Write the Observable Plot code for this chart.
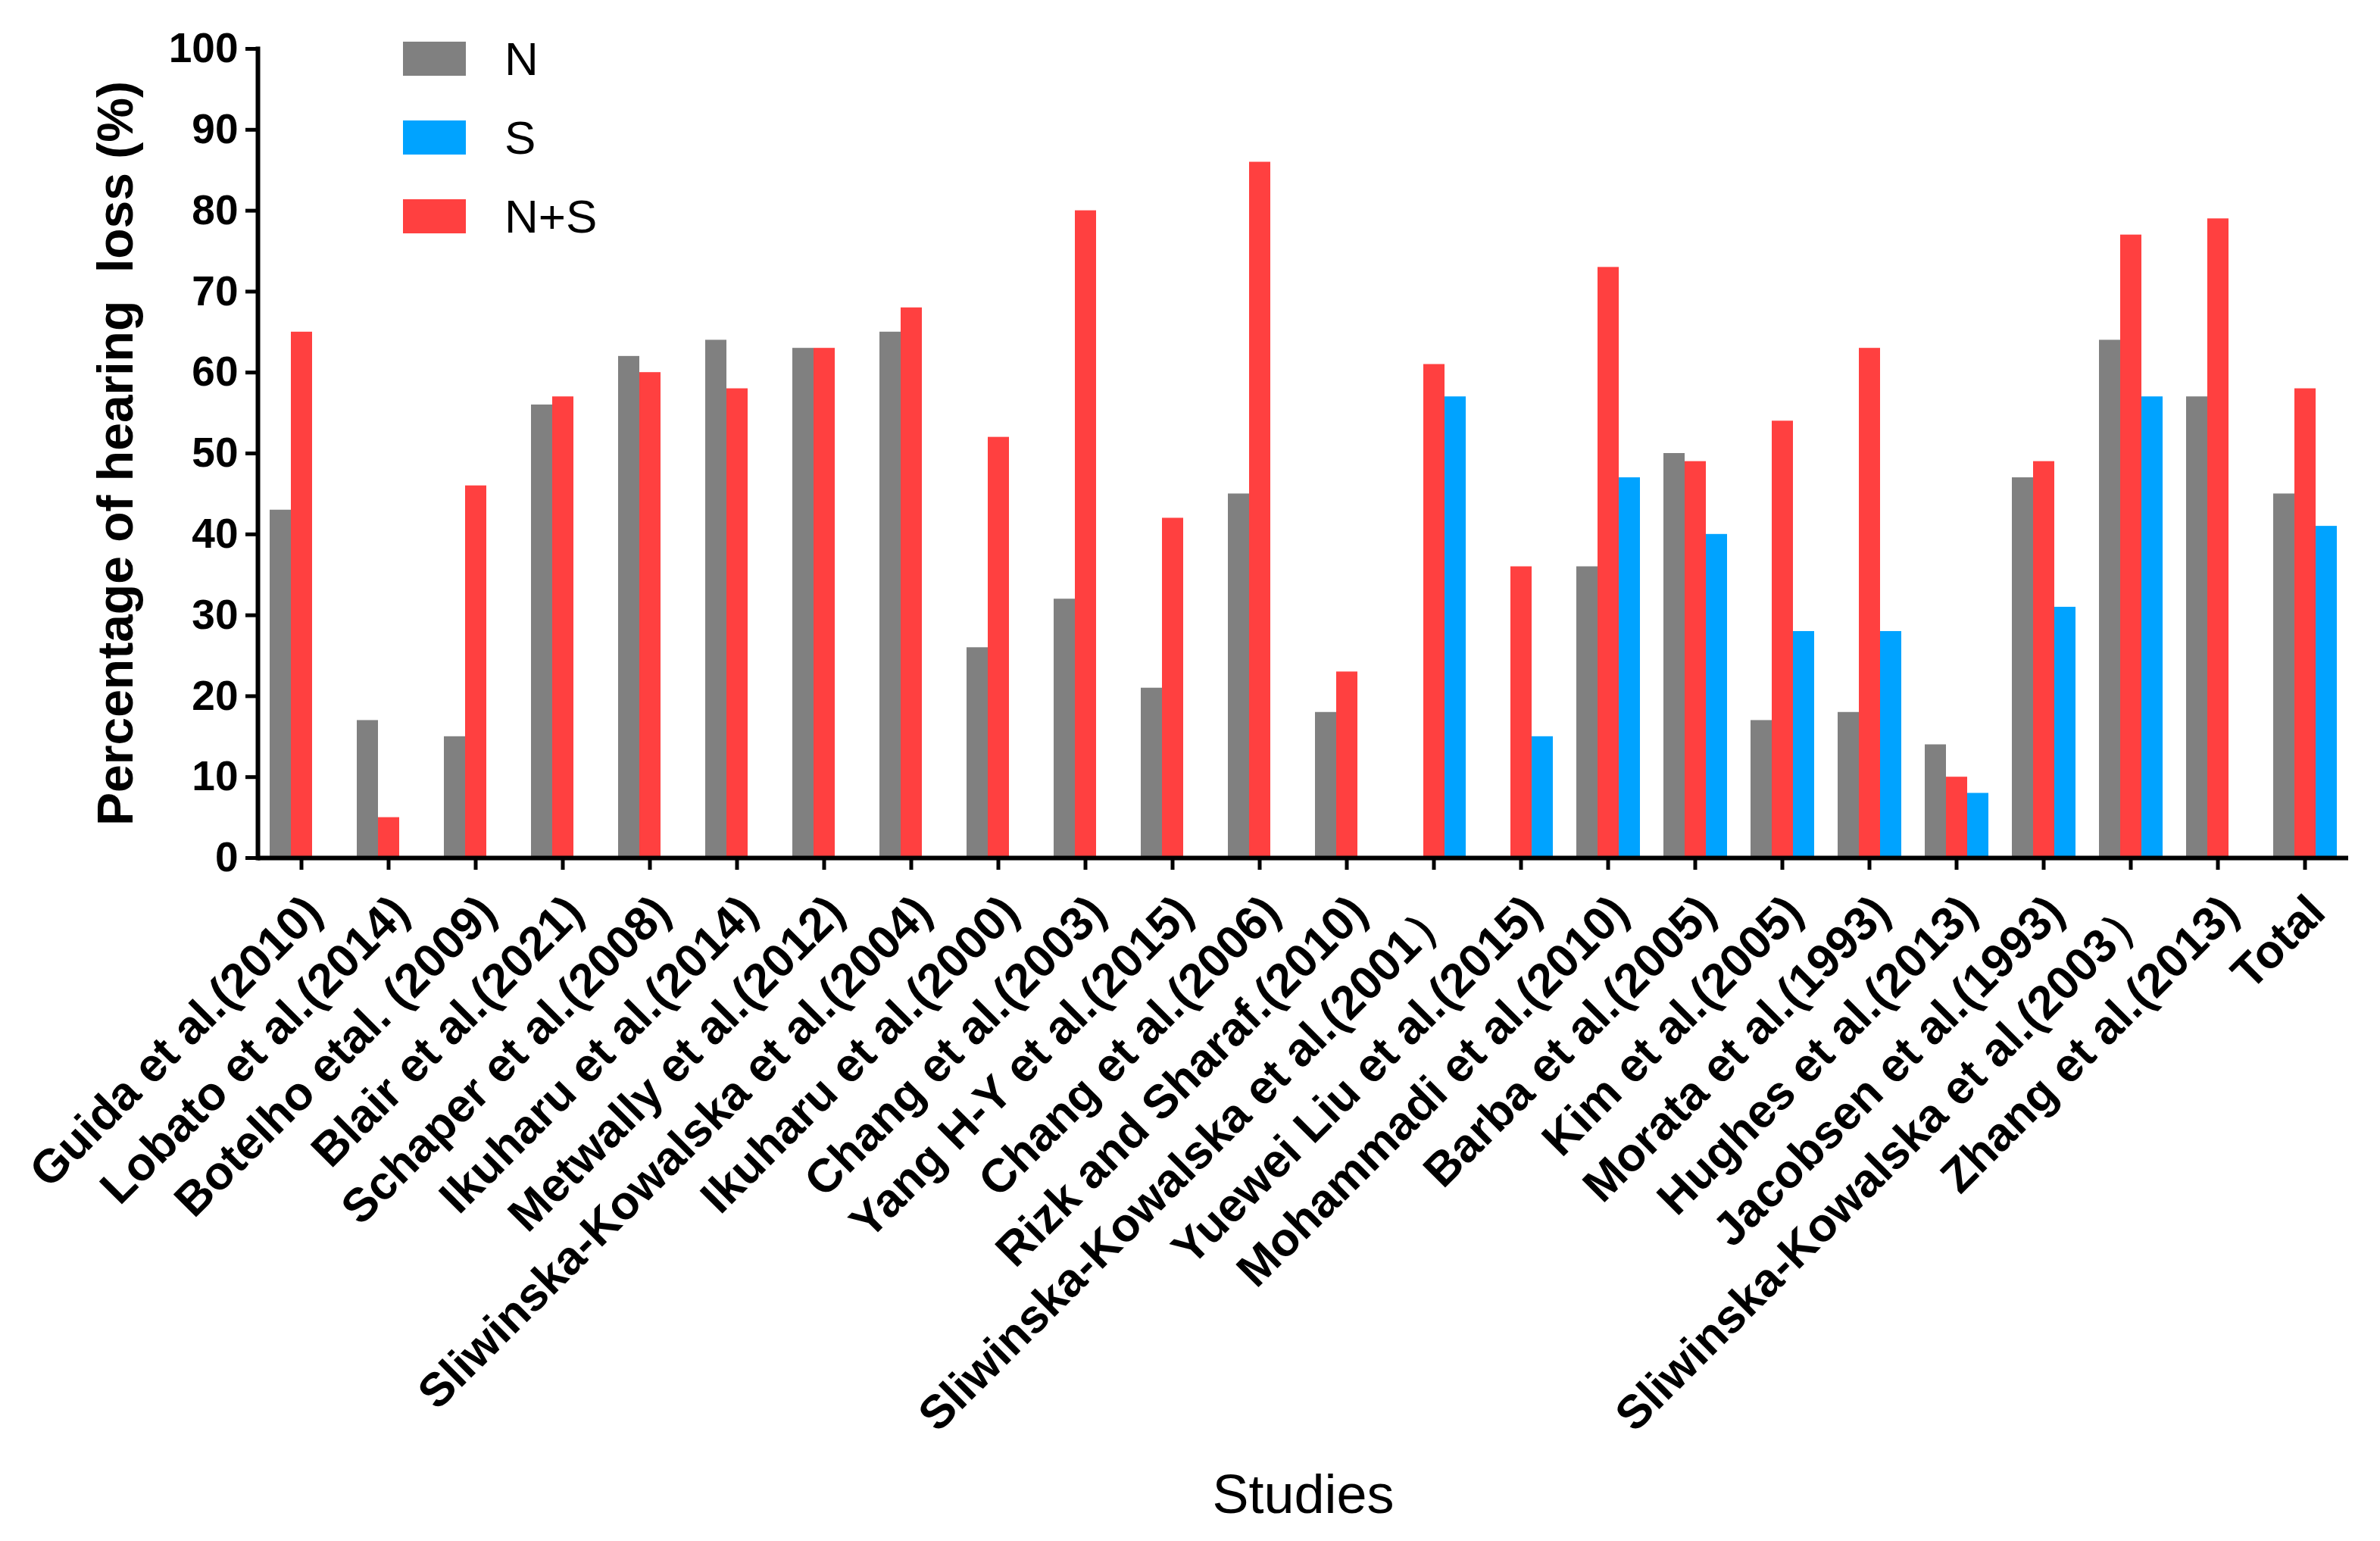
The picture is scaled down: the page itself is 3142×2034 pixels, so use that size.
<!DOCTYPE html>
<html>
<head>
<meta charset="utf-8">
<script src="https://cdn.jsdelivr.net/npm/d3@7"></script>
<script src="https://cdn.jsdelivr.net/npm/@observablehq/plot@0.6"></script>
<style>
  body { margin: 0; background: #fff; }
  #wrap { position: relative; width: 3142px; height: 2034px; font-family: "Liberation Sans", Arial, sans-serif; }
  #chart { position: absolute; left: 0; top: 0; }
  #legend { position: absolute; left: 532px; top: 55px; }
  .row { position: absolute; left: 0; display: flex; align-items: center; height: 45px; white-space: nowrap; }
  .sw { width: 83px; height: 45px; margin-right: 51px; }
  .lab { font-size: 62px; color: #000; }
</style>
</head>
<body>
<div id="wrap"><div id="chart"></div><div id="legend"></div></div>
<script>
const studies = [
  "Guida et al.(2010)",
  "Lobato et al.(2014)",
  "Botelho etal. (2009)",
  "Blair et al.(2021)",
  "Schaper et al.(2008)",
  "Ikuharu et al.(2014)",
  "Metwally et al.(2012)",
  "Sliwinska-Kowalska et al.(2004)",
  "Ikuharu et al.(2000)",
  "Chang et al.(2003)",
  "Yang H-Y et al.(2015)",
  "Chang et al.(2006)",
  "Rizk and Sharaf.(2010)",
  "Sliwinska-Kowalska et al.(2001\uFF09",
  "Yuewei Liu et al.(2015)",
  "Mohammadi et al.(2010)",
  "Barba et al.(2005)",
  "Kim et al.(2005)",
  "Morata et al.(1993)",
  "Hughes et al.(2013)",
  "Jacobsen et al.(1993)",
  "Sliwinska-Kowalska et al.(2003\uFF09",
  "Zhang et al.(2013)",
  "Total"
];
const valuesN  = [43, 17, 15, 56, 62, 64, 63, 65, 26, 32, 21, 45, 18, null, null, 36, 50, 17, 18, 14, 47, 64, 57, 45];
const valuesNS = [65, 5, 46, 57, 60, 58, 63, 68, 52, 80, 42, 86, 23, 61, 36, 73, 49, 54, 63, 10, 49, 77, 79, 58];
const valuesS  = [null, null, null, null, null, null, null, null, null, null, null, null, null, 57, 15, 47, 40, 28, 28, 8, 31, 57, null, 41];
const seriesNames = ["N", "S", "N+S"];
const seriesColors = ["#808080", "#00a3ff", "#ff4040"];
const slotOrder = ["N", "N+S", "S"];
const yTicks = [0, 10, 20, 30, 40, 50, 60, 70, 80, 90, 100];
const yLabel = "Percentage of hearing \u00A0loss (%)";
const xLabel = "Studies";

const data = [];
studies.forEach((s, i) => {
  if (valuesN[i] != null) data.push({study: s, series: "N", value: valuesN[i]});
  if (valuesNS[i] != null) data.push({study: s, series: "N+S", value: valuesNS[i]});
  if (valuesS[i] != null) data.push({study: s, series: "S", value: valuesS[i]});
});

const font = "Liberation Sans, Arial, sans-serif";
const chart = Plot.plot({
  width: 3142,
  height: 2034,
  marginLeft: 340,
  marginRight: 42,
  marginTop: 64,
  marginBottom: 902,
  style: {fontFamily: font, background: "white", color: "black"},
  fx: {domain: studies, padding: 0, axis: null},
  x: {domain: slotOrder, paddingInner: 0, paddingOuter: 0.5, axis: null},
  y: {domain: [0, 100], axis: null},
  color: {domain: seriesNames, range: seriesColors},
  marks: [
    Plot.barY(data, {fx: "study", x: "series", y: "value", fill: "series"}),
    Plot.ruleY([0], {stroke: "black", strokeWidth: 6}),
    Plot.frame({anchor: "left", facetAnchor: "left", stroke: "black", strokeWidth: 6}),
    Plot.axisY({ticks: yTicks, tickSize: 16, tickPadding: 10, strokeWidth: 5, fontSize: 55, fontWeight: "bold", label: null}),
    Plot.axisY({tickSize: 0, text: null, label: yLabel, labelArrow: "none", labelAnchor: "center", labelOffset: 212, fontSize: 66, fontWeight: "bold"}),
    Plot.axisFx({anchor: "bottom", tickSize: 16, strokeWidth: 5, text: null, label: null}),
    Plot.axisFx({anchor: "bottom", tickSize: 0, tickPadding: 61, tickRotate: -45, dx: 16, fontSize: 62, fontWeight: "bold", label: null}),
    Plot.axisFx({anchor: "bottom", tickSize: 0, text: null, label: xLabel, labelArrow: "none", labelAnchor: "center", labelOffset: 864, fontSize: 72})
  ]
});
document.getElementById("chart").appendChild(chart);

const legend = d3.select("#legend");
seriesNames.forEach((name, i) => {
  const row = legend.append("div").attr("class", "row").style("top", (i * 104) + "px");
  row.append("div").attr("class", "sw").style("background", seriesColors[i]);
  row.append("div").attr("class", "lab").text(name);
});
</script>
</body>
</html>
